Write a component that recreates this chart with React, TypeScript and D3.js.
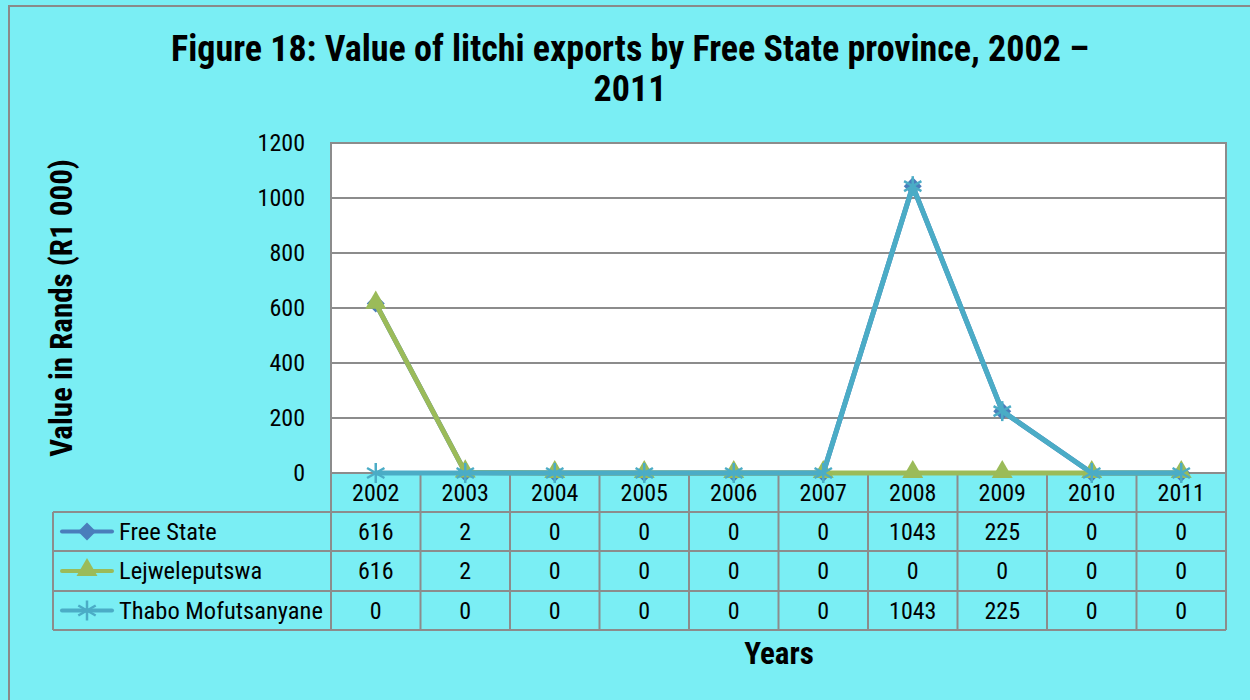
import React from 'react';
import * as d3 from 'd3';

const years = ['2002', '2003', '2004', '2005', '2006', '2007', '2008', '2009', '2010', '2011'];
const freeState = [616, 2, 0, 0, 0, 0, 1043, 225, 0, 0];
const lejweleputswa = [616, 2, 0, 0, 0, 0, 0, 0, 0, 0];
const thaboMofutsanyane = [0, 0, 0, 0, 0, 0, 1043, 225, 0, 0];
const yTicks = [0, 200, 400, 600, 800, 1000, 1200];

const series = [
  { name: 'Free State', values: freeState, color: '#4A7EBB', marker: 'diamond' },
  { name: 'Lejweleputswa', values: lejweleputswa, color: '#9BBB59', marker: 'triangle' },
  { name: 'Thabo Mofutsanyane', values: thaboMofutsanyane, color: '#4BACC6', marker: 'star' },
];

const FONT = '"Liberation Sans Narrow", "Arial Narrow", "Roboto Condensed", "Liberation Sans", Arial, sans-serif';
const GRID = '#8C8C8C';

function Marker({ type, x, y, color }: { type: string; x: number; y: number; color: string }) {
  if (type === 'diamond') {
    const r = 9;
    return <path d={`M${x},${y - r}L${x + r},${y}L${x},${y + r}L${x - r},${y}Z`} fill={color} />;
  }
  if (type === 'triangle') {
    const s = d3.symbol(d3.symbolTriangle, 190)();
    return <path d={s || ''} transform={`translate(${x},${y - 1})`} fill={color} />;
  }
  const r = 10;
  const lines = [0, 60, 120].map((a) => {
    const rad = (a * Math.PI) / 180;
    return [x - r * Math.sin(rad), y - r * Math.cos(rad), x + r * Math.sin(rad), y + r * Math.cos(rad)];
  });
  return (
    <g stroke={color} strokeWidth={2.5}>
      {lines.map((l, i) => (
        <line key={i} x1={l[0]} y1={l[1]} x2={l[2]} y2={l[3]} />
      ))}
    </g>
  );
}

export default function App() {
  const W = 1250;
  const H = 700;
  const plotL = 331;
  const plotR = 1226;
  const plotT = 143;
  const plotB = 473;
  const tableL = 53;
  const rowEdges = [473, 512, 551, 591, 630];

  const x = d3.scaleBand().domain(years).range([plotL, plotR]);
  const y = d3.scaleLinear().domain([0, 1200]).range([plotB, plotT]);
  const line = d3
    .line<number>()
    .x((_, i) => (x(years[i]) || 0) + x.bandwidth() / 2)
    .y((d) => y(d));

  const colEdges = years.map((yr) => x(yr) || 0).concat([plotR]);

  return (
    <svg width={W} height={H} style={{ position: 'absolute', left: 0, top: 0 }} fontFamily={FONT}>
      <rect x={0} y={0} width={W} height={H} fill="#7AEEF4" />
      <rect x={9} y={6} width={W + 10} height={H + 10} fill="none" stroke="#8A8A8A" strokeWidth={2} />

      <text x={630} y={61} textAnchor="middle" fontSize={36} fontWeight="bold">
        Figure 18: Value of litchi exports by Free State province, 2002 –
      </text>
      <text x={630} y={101} textAnchor="middle" fontSize={36} fontWeight="bold">
        2011
      </text>

      <rect x={plotL} y={plotT} width={plotR - plotL} height={plotB - plotT} fill="#fff" />
      {yTicks.map((t) => (
        <g key={t}>
          <line x1={plotL} x2={plotR} y1={y(t)} y2={y(t)} stroke={GRID} strokeWidth={2} />
          <text x={305} y={y(t) + 8} textAnchor="end" fontSize={24}>
            {t}
          </text>
        </g>
      ))}
      <rect x={plotL} y={plotT} width={plotR - plotL} height={plotB - plotT} fill="none" stroke={GRID} strokeWidth={2} />

      <text
        transform={`translate(72,${(plotT + plotB) / 2}) rotate(-90)`}
        textAnchor="middle"
        fontSize={31}
        fontWeight="bold"
      >
        Value in Rands (R1 000)
      </text>

      {/* data table */}
      {rowEdges.slice(1).map((ry) => (
        <line key={ry} x1={tableL} x2={plotR} y1={ry} y2={ry} stroke={GRID} strokeWidth={2} />
      ))}
      <line x1={tableL} x2={tableL} y1={rowEdges[1]} y2={rowEdges[4]} stroke={GRID} strokeWidth={2} />
      {colEdges.map((cx, i) => (
        <line key={i} x1={cx} x2={cx} y1={plotB} y2={rowEdges[4]} stroke={GRID} strokeWidth={2} />
      ))}
      {years.map((yr) => (
        <text key={yr} x={(x(yr) || 0) + x.bandwidth() / 2} y={501} textAnchor="middle" fontSize={24}>
          {yr}
        </text>
      ))}
      {series.map((s, r) => {
        const cy = (rowEdges[r + 1] + rowEdges[r + 2]) / 2;
        return (
          <g key={s.name}>
            <line x1={62} x2={112} y1={cy} y2={cy} stroke={s.color} strokeWidth={4} strokeLinecap="round" />
            <Marker type={s.marker} x={87} y={cy} color={s.color} />
            <text x={119} y={cy + 8} fontSize={24.5}>
              {s.name}
            </text>
            {s.values.map((v, i) => (
              <text key={i} x={(x(years[i]) || 0) + x.bandwidth() / 2} y={cy + 8} textAnchor="middle" fontSize={24}>
                {v}
              </text>
            ))}
          </g>
        );
      })}

      {/* series lines */}
      {series.map((s) => (
        <g key={s.name}>
          <path d={line(s.values) || ''} fill="none" stroke={s.color} strokeWidth={5} strokeLinejoin="round" />
          {s.values.map((v, i) => (
            <Marker key={i} type={s.marker} x={(x(years[i]) || 0) + x.bandwidth() / 2} y={y(v)} color={s.color} />
          ))}
        </g>
      ))}

      <text x={779} y={664} textAnchor="middle" fontSize={31} fontWeight="bold">
        Years
      </text>
    </svg>
  );
}
